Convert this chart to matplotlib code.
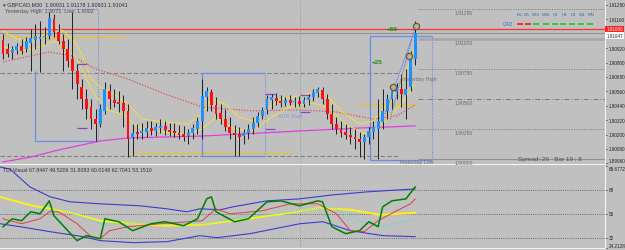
import matplotlib
matplotlib.use("Agg")
import matplotlib.pyplot as plt

plt.rcParams['font.family'] = ['Liberation Sans', 'DejaVu Sans']

# ---------------- DATA ----------------
symbol_title = "\u25be GBPCAD,M30  1.90931 1.91178 1.90931 1.91041"
yday_text = "Yesterday High: 1.9071  Low: 1.9002"

opens = [1.90988, 1.90913, 1.90880, 1.90905, 1.90938, 1.90913, 1.90963, 1.90988, 1.90997, 1.91013,
         1.91022, 1.91163, 1.91055, 1.90980, 1.90913, 1.90830, 1.90730, 1.90597, 1.90497, 1.90430,
         1.90330, 1.90288, 1.90397, 1.90563, 1.90488, 1.90472, 1.90463, 1.90397, 1.90180, 1.90222,
         1.90213, 1.90222, 1.90255, 1.90230, 1.90255, 1.90272, 1.90238, 1.90230, 1.90213, 1.90205,
         1.90188, 1.90213, 1.90247, 1.90313, 1.90513, 1.90555, 1.90447, 1.90380, 1.90330, 1.90263,
         1.90213, 1.90205, 1.90188, 1.90213, 1.90247, 1.90297, 1.90355, 1.90405, 1.90488, 1.90505,
         1.90480, 1.90463, 1.90488, 1.90472, 1.90480, 1.90455, 1.90488, 1.90513, 1.90547, 1.90572,
         1.90497, 1.90372, 1.90288, 1.90247, 1.90222, 1.90197, 1.90180, 1.90163, 1.90138, 1.90180,
         1.90222, 1.90247, 1.90305, 1.90397, 1.90497, 1.90555, 1.90580, 1.90530, 1.90597, 1.90830]
highs = [1.91038, 1.90963, 1.90938, 1.90963, 1.90997, 1.91013, 1.91080, 1.91122, 1.91147, 1.91097,
         1.91222, 1.91205, 1.91122, 1.91038, 1.90997, 1.91222, 1.90788, 1.90663, 1.90580, 1.90497,
         1.90413, 1.90455, 1.90638, 1.90622, 1.90580, 1.90563, 1.90530, 1.90455, 1.90288, 1.90288,
         1.90297, 1.90313, 1.90313, 1.90297, 1.90330, 1.90313, 1.90297, 1.90297, 1.90280, 1.90272,
         1.90247, 1.90288, 1.90347, 1.90663, 1.90597, 1.90580, 1.90513, 1.90455, 1.90413, 1.90347,
         1.90280, 1.90263, 1.90247, 1.90288, 1.90347, 1.90388, 1.90430, 1.90530, 1.90538, 1.90547,
         1.90530, 1.90513, 1.90530, 1.90513, 1.90522, 1.90513, 1.90538, 1.90580, 1.90597, 1.90597,
         1.90538, 1.90455, 1.90347, 1.90313, 1.90288, 1.90263, 1.90247, 1.90222, 1.90205, 1.90263,
         1.90313, 1.90497, 1.90580, 1.90538, 1.90613, 1.90630, 1.90705, 1.90747, 1.90897, 1.91147]
lows = [1.90830, 1.90847, 1.90830, 1.90872, 1.90872, 1.90888, 1.90730, 1.90913, 1.90722, 1.90955,
        1.90997, 1.91013, 1.90955, 1.90730, 1.90763, 1.90580, 1.90497, 1.90413, 1.90330, 1.90247,
        1.90147, 1.90263, 1.90372, 1.90413, 1.90430, 1.90388, 1.90263, 1.90013, 1.90022, 1.90163,
        1.90163, 1.90180, 1.90197, 1.90188, 1.90213, 1.90197, 1.90188, 1.90180, 1.90163, 1.90147,
        1.90122, 1.90163, 1.90205, 1.90163, 1.90397, 1.90397, 1.90330, 1.90288, 1.90230, 1.90163,
        1.90022, 1.90022, 1.90122, 1.90163, 1.90205, 1.90263, 1.90330, 1.90372, 1.90413, 1.90447,
        1.90430, 1.90438, 1.90447, 1.90430, 1.90438, 1.90430, 1.90447, 1.90480, 1.90513, 1.90455,
        1.90330, 1.90247, 1.90205, 1.90180, 1.90163, 1.90122, 1.90080, 1.90013, 1.89997, 1.90122,
        1.90163, 1.89997, 1.90247, 1.90330, 1.90413, 1.90497, 1.90430, 1.90330, 1.90563, 1.90780]
closes = [1.90872, 1.90872, 1.90913, 1.90938, 1.90897, 1.90980, 1.91005, 1.91022, 1.91013, 1.91022,
          1.91172, 1.91055, 1.90980, 1.90913, 1.90813, 1.90730, 1.90622, 1.90497, 1.90413, 1.90330,
          1.90288, 1.90413, 1.90580, 1.90497, 1.90463, 1.90455, 1.90397, 1.90163, 1.90213, 1.90205,
          1.90230, 1.90255, 1.90230, 1.90263, 1.90272, 1.90238, 1.90222, 1.90213, 1.90197, 1.90180,
          1.90213, 1.90255, 1.90313, 1.90522, 1.90563, 1.90447, 1.90372, 1.90330, 1.90263, 1.90213,
          1.90197, 1.90180, 1.90213, 1.90247, 1.90297, 1.90355, 1.90405, 1.90497, 1.90513, 1.90480,
          1.90463, 1.90488, 1.90463, 1.90480, 1.90455, 1.90488, 1.90513, 1.90555, 1.90580, 1.90497,
          1.90372, 1.90288, 1.90247, 1.90213, 1.90197, 1.90180, 1.90163, 1.90138, 1.90180, 1.90230,
          1.90263, 1.90313, 1.90397, 1.90497, 1.90563, 1.90597, 1.90538, 1.90580, 1.90847, 1.91047]

# moving averages (bar index, price)
ma_fast_idx = [0, 3, 6, 9, 11, 13, 15, 17, 19, 21, 24, 27, 30, 35, 40, 43, 45, 48, 51, 54, 57, 60, 64, 68, 70, 73, 77, 80, 83, 86, 89]
ma_fast = [1.91063, 1.90997, 1.90963, 1.91038, 1.91097, 1.91063, 1.90997, 1.90872, 1.90663, 1.90597,
           1.90538, 1.90455, 1.90330, 1.90305, 1.90288, 1.90372, 1.90497, 1.90455, 1.90347, 1.90313,
           1.90413, 1.90497, 1.90522, 1.90563, 1.90522, 1.90397, 1.90288, 1.90313, 1.90455, 1.90622, 1.90930]
ma_mid_idx = [0, 4, 8, 11, 14, 16, 18, 20, 23, 26, 29, 34, 40, 43, 46, 50, 54, 58, 62, 67, 70, 74, 78, 82, 86, 89]
ma_mid = [1.90930, 1.90897, 1.90930, 1.90980, 1.90913, 1.90830, 1.90663, 1.90522, 1.90397, 1.90372,
          1.90263, 1.90222, 1.90197, 1.90247, 1.90347, 1.90247, 1.90230, 1.90347, 1.90430, 1.90463,
          1.90430, 1.90288, 1.90205, 1.90288, 1.90455, 1.90622]
ma_slow_idx = [0, 5, 10, 15, 20, 27, 35, 43, 54, 64, 72, 80, 85, 89]
ma_slow = [1.90805, 1.90847, 1.90888, 1.90855, 1.90747, 1.90663, 1.90538, 1.90430, 1.90397, 1.90405,
           1.90388, 1.90330, 1.90355, 1.90447]
ma_long_idx = [0, 6, 12, 19, 21, 27, 43, 64, 77, 89]
ma_long = [1.89972, 1.90013, 1.90072, 1.90130, 1.90147, 1.90172, 1.90188, 1.90230, 1.90255, 1.90272]

# levels
red_level = 1.91080
bid_price = 1.91047
yday_high = 1.90714
yday_low = 1.90018
round_levels = [1.9125, 1.9100, 1.9075, 1.9050, 1.9025, 1.9000]
round_labels = ["1.91250", "1.91000", "1.90750", "1.90500", "1.90250", "1.90000"]
open_lines = [(-0.65, 26.3, 1.91013), (28.1, 62.6, 1.90047), (76.5, 89.5, 1.90455)]
adr_marks = [(16.0, 18.1, 1.90788), (16.0, 18.1, 1.90255), (56.6, 58.7, 1.90538),
             (56.6, 58.7, 1.90247), (64.1, 66.3, 1.90530), (64.1, 66.3, 1.90388)]
# session boxes: left, right, top, bottom
boxes = [(6.9, 20.5, 1.90730, 1.90147), (43.0, 56.6, 1.90714, 1.90022), (79.3, 92.7, 1.91022, 1.89988)]
box1_proj_top = 1.91247
circle_idx = [84.2, 87.7, 89.2]
circle_px = [1.90597, 1.90855, 1.91105]

price_ticks = [1.91280, 1.91160, 1.90920, 1.90800, 1.90680, 1.90560, 1.90440, 1.90320, 1.90200, 1.90080, 1.89960]

# TDI indicator
tdi_up_idx = [-0.65, 1.5, 5.8, 10.2, 14.5, 21, 29.6, 35.4, 39.7, 42.5, 46.9, 49.7, 57, 64.1, 71.3, 78.6, 89]
tdi_up = [85.25, 83.75, 70.25, 62.75, 59, 57.5, 56, 53.75, 51.5, 53.75, 53, 55.25, 59.75, 61.25, 64.25, 66.5, 68.75]
tdi_lo_idx = [-0.65, 3.7, 10.2, 17.3, 21, 28.1, 35.4, 42.5, 46.2, 53.3, 64.1, 69.1, 75, 82.1, 89]
tdi_lo = [42.5, 40.25, 36.5, 32.75, 29.75, 28.25, 29, 33.5, 32, 35, 42.5, 44, 37.25, 33.5, 32.75]
tdi_base_idx = [-0.65, 6.5, 13.8, 21, 28.1, 35.4, 42.5, 49.7, 60.5, 68.5, 75, 81.4, 89]
tdi_base = [62.75, 56, 51.5, 44.75, 42.5, 41, 41.75, 44.75, 50, 54.5, 53, 49.25, 50.75]
tdi_rsi_idx = [0, 2, 4, 6, 8, 10, 11, 14, 16, 18, 21, 22, 25, 28, 32, 35, 39, 42, 44, 45, 46, 50, 53,
               57, 60, 64, 68, 69, 71, 74, 77, 79, 81, 82, 84, 87, 89]
tdi_rsi = [40.25, 46.25, 44.75, 51.5, 50, 59.75, 48.5, 37.25, 29.75, 33.5, 31.25, 46.25, 44, 37.25,
           42.5, 44, 41, 46.25, 61.25, 62.75, 51.5, 44, 46.25, 59, 59.75, 56, 59.75, 59, 40.25, 35,
           37.25, 44, 40.25, 55.25, 59.75, 61.25, 70.25]
tdi_sig_idx = [0, 4, 8, 10, 12, 16, 19, 21, 23, 27, 34, 43, 46, 49, 56, 62, 68, 72, 75, 78, 81, 85, 88, 89]
tdi_sig = [46.25, 42.5, 46.25, 51.5, 51.5, 42.5, 32.75, 31.25, 37.25, 40.25, 42.5, 44.75, 53.75, 50,
           52.25, 57.5, 57.5, 50, 37.25, 36.5, 44.75, 52.25, 57.5, 61.25]
tdi_cy_idx = [0, 6, 12, 21, 32, 43, 53, 64, 71, 77, 82, 89]
tdi_cy = [53.75, 50, 53.75, 42.5, 42.5, 42.5, 47.75, 52.25, 55.25, 44.75, 40.25, 46.25]
tdi_levels = [68, 50, 32]
tdi_ticks = [85.6772, 68, 50, 32, 24.2128]
tdi_tick_labels = ["85.6772", "68", "50", "32", "24.2128"]
tdi_title = "TDI Visual 67.8447 49.5206 31.8083 60.0148 62.7041 53.1510"

tf_names = ["M1", "M5", "M15", "M30", "H1", "H4", "D1", "W1", "MN"]
tf_state = [0, 0, 1, 1, 1, 1, 1, 1, 1]

# ---------------- DRAW ----------------
W, H = 625, 251
BG = '#c0c0c0'
fig = plt.figure(figsize=(W / 100, H / 100), dpi=100)
fig.patch.set_facecolor(BG)


def fx(x):
    return x / W


def fy(y):
    return 1 - y / H


XL = (-0.65, 130.0)
ax = fig.add_axes([0, fy(165), fx(605), (165 - 2) / H])
ax2 = fig.add_axes([0, fy(249), fx(605), (249 - 167) / H])
for a in (ax, ax2):
    a.set_facecolor(BG)
    a.set_xlim(*XL)
    for s in ('top', 'left'):
        a.spines[s].set_visible(False)
    for s in ('right', 'bottom'):
        a.spines[s].set_color('#f4f4f4')
        a.spines[s].set_linewidth(0.8)
    a.set_xticks([])
    a.yaxis.tick_right()
    a.tick_params(axis='y', length=1.5, width=0.5, colors='#202020', labelsize=3.0, pad=0.8)

ax.set_ylim(1.89955, 1.91313)
ax2.set_ylim(24.5, 86)

n = len(opens)
idx = list(range(n))

# horizontal levels
ax.axhline(red_level, color='#ff3030', lw=0.9, zorder=2)
ax.axhline(bid_price, color='#909090', lw=0.8, zorder=2)
ax.hlines([yday_high, yday_low], -0.65, 85.5, colors='#808080', lw=0.8, linestyles=(0, (4, 2)), zorder=2)
styles = [(0, (1, 1.5)), '-', (0, (1, 1.5)), (0, (5, 2, 1, 2)), (0, (1, 1.5)), '-']
cols = ['#7a7a7a', '#a8a8a8', '#7a7a7a', '#7a7a7a', '#7a7a7a', '#909090']
lws = [0.7, 2.0, 0.7, 0.7, 0.7, 0.8]
for lv, lab, st, c, lw in zip(round_levels, round_labels, styles, cols, lws):
    ax.hlines(lv, 89.6, XL[1], colors=c, linestyles=st, lw=lw, zorder=1)
    ax.text(97.5, lv - 0.00012, lab, fontsize=3.6, color='#6a6a6a', va='top', ha='left')

# period separator
ax.axvline(64.1, color='#888888', lw=0.6, ls=(0, (1, 2)), zorder=1)
ax2.axvline(64.1, color='#888888', lw=0.6, ls=(0, (1, 2)), zorder=1)

# daily open lines
for x0, x1, p in open_lines:
    ax.hlines(p, x0, x1, colors='#e8c030', lw=0.9, zorder=2)

# session boxes
bc = '#6c8ce8'
for i, (l, r, t, b) in enumerate(boxes):
    ax.vlines(l, b, t, colors=bc, lw=0.9, zorder=2)
    ax.hlines(b, l, r, colors=bc, lw=0.9, zorder=2)
    if i > 0:
        ax.hlines(t, l, r, colors=bc, lw=0.9, zorder=2)
    top = box1_proj_top if i == 0 else t
    ax.vlines(r, b, top, colors=bc, lw=0.8, linestyles=(0, (1, 1.2)), zorder=2)
    if i == 0:
        ax.hlines(top, l, r, colors=bc, lw=0.8, linestyles=(0, (1, 1.2)), zorder=2)

# moving averages
ax.plot(ma_long_idx, ma_long, color='#e040e0', lw=0.9, zorder=3)
ax.plot(ma_slow_idx, ma_slow, color='#e05050', lw=0.9, ls=(0, (1, 1.3)), zorder=3)
ax.plot(ma_mid_idx, ma_mid, color='#f0e040', lw=0.7, zorder=3)
ax.plot(ma_fast_idx, ma_fast, color='#f0e040', lw=0.7, zorder=3)

# adr marks
for x0, x1, p in adr_marks:
    ax.hlines(p, x0, x1, colors='#9040c0', lw=0.9, zorder=3)

# candles
ax.vlines(idx, lows, highs, colors='#202020', lw=0.7, zorder=4)
bull = [i for i in idx if closes[i] >= opens[i]]
bear = [i for i in idx if closes[i] < opens[i]]
ax.bar(bull, [closes[i] - opens[i] for i in bull], bottom=[opens[i] for i in bull],
       width=0.62, color='#1e90ff', zorder=5)
ax.bar(bear, [opens[i] - closes[i] for i in bear], bottom=[closes[i] for i in bear],
       width=0.62, color='#ff1010', zorder=5)

# trend dots/lines
ax.plot([82.5, 89.2], [1.90372, 1.91105], color='#4a5ae0', lw=0.7, ls=(0, (1, 1.2)), zorder=6)
ax.plot([83.6, 88.3], [1.90330, 1.90997], color='#4a5ae0', lw=0.7, ls=(0, (1, 1.2)), zorder=6)
ax.plot(circle_idx, circle_px, 'o', ms=4.5, mfc='#c8b070', mec='#5a5a5a', mew=0.9, ls='none', zorder=7)

# texts on chart
ax.text(82.8, 1.91080, "+50", color='#109010', fontsize=4.6, fontweight='bold', va='center', ha='left', zorder=8)
ax.text(79.6, 1.90810, "+25", color='#109010', fontsize=4.6, fontweight='bold', va='center', ha='left', zorder=8)
ax.text(86.0, 1.90690, "Yesterday High", color='#707070', fontsize=3.8, va='top', ha='left', zorder=8)
ax.text(85.6, 1.90000, "Yesterday Low", color='#707070', fontsize=3.8, va='top', ha='left', zorder=8)
ax.text(62.0, 1.90355, "ADR Start", color='#7f9ccf', fontsize=3.9, va='center', ha='center', zorder=8)

# right price axis: tick marks + labels as text
ytr = ax.get_yaxis_transform()
ax.set_yticks(price_ticks)
ax.set_yticklabels([])
for k, v in enumerate(price_ticks):
    va = 'bottom' if k == len(price_ticks) - 1 else 'center'
    ax.text(1.006, v, "%.5f" % v, transform=ytr, fontsize=3.3, color='#202020', va=va, ha='left', clip_on=False)
ax.text(1.002, red_level, "1.91080", transform=ytr, fontsize=3.3, color='white',
        va='center', ha='left', bbox=dict(boxstyle='square,pad=0.2', fc='#ff2020', ec='none'), zorder=9,
        clip_on=False)
ax.text(1.002, bid_price - 0.00003, "1.91047", transform=ytr, fontsize=3.3, color='#202020',
        va='top', ha='left', bbox=dict(boxstyle='square,pad=0.2', fc='white', ec='none'), zorder=9,
        clip_on=False)

# HUD texts
fig.text(fx(3), fy(4.5), symbol_title, fontsize=3.9, color='#303030', va='center', ha='left')
fig.text(fx(5), fy(11), yday_text, fontsize=3.9, color='#505050', va='center', ha='left')
fig.text(fx(518), fy(160), "Spread: 26   Bar 19 : 8", fontsize=4.6, color='#505050', va='center', ha='left')
tf_x = [516.5, 523.5, 531.5, 541.5, 553, 561.5, 570.5, 579, 587.5]
for xx, nm in zip(tf_x, tf_names):
    fig.text(fx(xx), fy(15), nm, fontsize=3.2, color='#4070b0', va='center', ha='left')
fig.text(fx(503), fy(25), "CAD", fontsize=3.5, color='#4070b0', va='center', ha='left')
dash_x = [517, 525, 533, 543, 552, 560, 569, 578, 587]
for xx, st in zip(dash_x, tf_state):
    fig.add_artist(plt.Line2D([fx(xx), fx(xx + 5.5)], [fy(24.5), fy(24.5)], color='#20d020' if st else '#ff2020',
                              lw=1.3, solid_capstyle='butt'))

# ---------- TDI panel ----------
for lv in tdi_levels:
    ax2.axhline(lv, color='#6a6a6a', lw=0.7, ls=(0, (1, 1.2)), zorder=1)
ax2.plot(tdi_up_idx, tdi_up, color='#3c3cd0', lw=0.8, zorder=3)
ax2.plot(tdi_lo_idx, tdi_lo, color='#3c3cd0', lw=0.8, zorder=3)
ax2.plot(tdi_base_idx, tdi_base, color='#f8f020', lw=1.5, zorder=3)
ax2.plot(tdi_cy_idx, tdi_cy, color='#40e0e0', lw=0.7, ls=(0, (1, 1.2)), zorder=3)
ax2.plot(tdi_sig_idx, tdi_sig, color='#e04040', lw=0.7, zorder=4)
ax2.plot(tdi_rsi_idx, tdi_rsi, color='#008000', lw=1.1, zorder=5)
ytr2 = ax2.get_yaxis_transform()
ax2.set_yticks(tdi_ticks)
ax2.set_yticklabels([])
for k, (v, lab) in enumerate(zip(tdi_ticks, tdi_tick_labels)):
    va = 'top' if k == 0 else ('bottom' if k == len(tdi_ticks) - 1 else 'center')
    ax2.text(1.006, v, lab, transform=ytr2, fontsize=3.3, color='#202020', va=va, ha='left', clip_on=False)
ax2.text(0.005, 0.985, tdi_title, transform=ax2.transAxes, fontsize=3.8, color='#303030', va='top', ha='left')

fig.savefig("out.png", dpi=100, facecolor=BG)
